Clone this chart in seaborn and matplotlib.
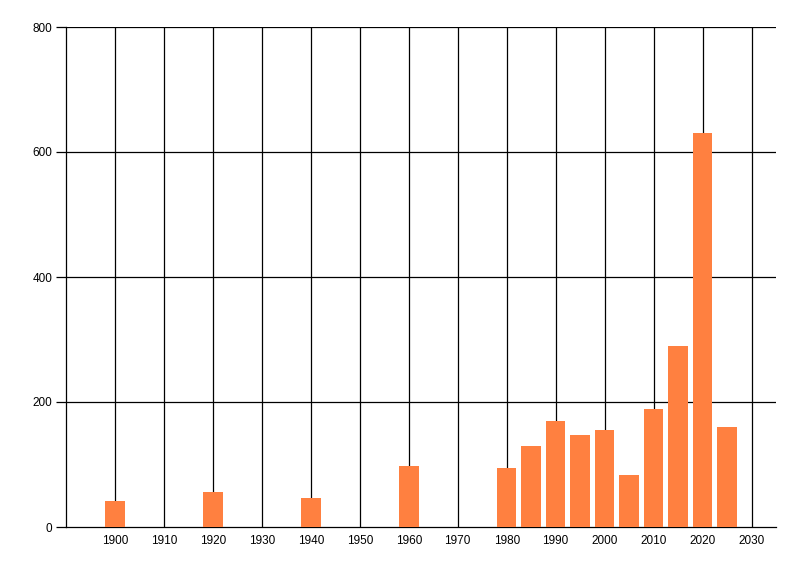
import numpy as np
import pandas as pd
import seaborn as sns
import matplotlib
matplotlib.use("Agg")
import matplotlib.pyplot as plt

# values
years = [1900, 1920, 1940, 1960, 1980, 1985, 1990, 1995, 2000, 2005, 2010, 2015, 2020, 2025]
counts = [42, 56, 46, 98, 94, 130, 170, 147, 155, 83, 189, 290, 630, 160]
x_ticks = list(range(1900, 2031, 10))
y_ticks = [0, 200, 400, 600, 800]

df = pd.DataFrame({"year": years, "count": counts})

sns.set_theme(style="white", rc={"ytick.left": True, "ytick.major.size": 7,
                                 "ytick.color": "black", "xtick.color": "black"})
plt.rcParams['font.family'] = ['Liberation Sans', 'DejaVu Sans']

fig = plt.figure(figsize=(8, 5.76), dpi=100)
ax = fig.add_axes([66/800, 1 - 527/576, (776 - 66)/800, (527 - 27)/576])

sns.barplot(data=df, x="year", y="count", native_scale=True, width=0.8,
            color="#FF8040", saturation=1, linewidth=0, ax=ax, zorder=3)

ax.set_xlim(1890, 2035)
ax.set_ylim(0, 800)
ax.set_xticks(x_ticks)
ax.set_yticks(y_ticks)
ax.set_xticklabels([str(t) for t in x_ticks])
ax.set_yticklabels([str(t) for t in y_ticks])

# black grid behind the bars
for t in x_ticks:
    ax.axvline(t, color="black", lw=0.9, zorder=1)
for t in y_ticks[1:]:
    ax.axhline(t, color="black", lw=0.9, zorder=1)

ax.set_xlabel("")
ax.set_ylabel("")
for side in ["top", "right"]:
    ax.spines[side].set_visible(False)
for side in ["left", "bottom"]:
    ax.spines[side].set_color("black")
    ax.spines[side].set_linewidth(0.9)

ax.tick_params(axis="y", length=7, width=0.9, color="black", labelcolor="black",
               labelsize=8.5, pad=3, left=True, direction="out")
ax.tick_params(axis="x", length=0, labelsize=8.5, labelcolor="black", pad=6)

fig.savefig("out.png", dpi=100, facecolor="white")
